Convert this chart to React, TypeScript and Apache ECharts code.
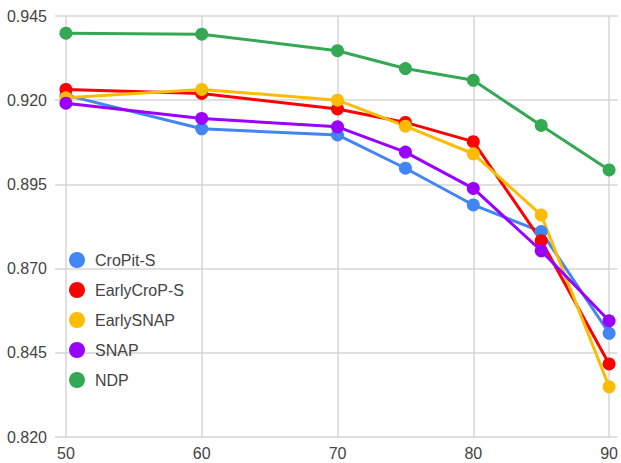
import React, { useEffect, useRef } from "react";
import * as echarts from "echarts";

const xValues = [50, 60, 70, 75, 80, 85, 90];
const seriesNames = ["CroPit-S", "EarlyCroP-S", "EarlySNAP", "SNAP", "NDP"];
const cropitS = [0.9215, 0.9115, 0.9097, 0.8998, 0.8889, 0.881, 0.8508];
const earlyCropS = [0.9232, 0.922, 0.9174, 0.9134, 0.9077, 0.8783, 0.8417];
const earlySnap = [0.9207, 0.9232, 0.92, 0.9123, 0.9041, 0.8859, 0.8349];
const snap = [0.9191, 0.9146, 0.9121, 0.9046, 0.8938, 0.8753, 0.8545];
const ndp = [0.9399, 0.9396, 0.9347, 0.9294, 0.9259, 0.9125, 0.8993];
const seriesValues = [cropitS, earlyCropS, earlySnap, snap, ndp];
const colors = ["#4285F4", "#FF0000", "#FBBC04", "#9900FF", "#34A853"];

const FONT = 'Arial, "Liberation Sans", sans-serif';

export default function App() {
  const ref = useRef<HTMLDivElement>(null);
  useEffect(() => {
    if (!ref.current) return;
    const chart = echarts.init(ref.current, null, { renderer: "svg" });
    chart.setOption({
      animation: false,
      backgroundColor: "#ffffff",
      color: colors,
      grid: { left: 55, right: 0, top: 16, bottom: 26, containLabel: false },
      legend: {
        orient: "vertical",
        left: 64,
        top: 247,
        icon: "circle",
        itemWidth: 26,
        itemHeight: 16,
        itemGap: 14,
        data: seriesNames,
        textStyle: { fontFamily: FONT, fontSize: 16, color: "#444444" },
      },
      xAxis: {
        type: "value",
        min: 49.195,
        max: 90.61,
        minInterval: 10,
        maxInterval: 10,
        axisLine: { show: false },
        axisTick: { show: false },
        axisLabel: {
          showMinLabel: false,
          showMaxLabel: false,
          margin: 8,
          fontFamily: FONT,
          fontSize: 16,
          color: "#444444",
          formatter: (v: number) => (Math.abs(v % 10) < 1e-6 ? String(v) : ""),
        },
        splitLine: {
          show: true,
          showMinLine: false,
          showMaxLine: false,
          lineStyle: { color: "#d6d6d6", width: 1.5 },
        },
      },
      yAxis: {
        type: "value",
        min: 0.82,
        max: 0.945,
        interval: 0.025,
        axisLine: { show: false },
        axisTick: { show: false },
        axisLabel: {
          margin: 8,
          fontFamily: FONT,
          fontSize: 16,
          color: "#444444",
          formatter: (v: number) => v.toFixed(3),
        },
        splitLine: { show: true, lineStyle: { color: "#d6d6d6", width: 1.5 } },
      },
      series: seriesNames.map((name, i) => ({
        name,
        type: "line",
        data: xValues.map((x, j) => [x, seriesValues[i][j]]),
        symbol: "circle",
        symbolSize: 13,
        showSymbol: true,
        lineStyle: { width: 3, color: colors[i] },
        itemStyle: { color: colors[i] },
        emphasis: { disabled: true },
      })),
    });
    return () => chart.dispose();
  }, []);
  return (
    <div
      ref={ref}
      style={{ position: "fixed", left: 0, top: 0, width: 621, height: 463 }}
    />
  );
}
